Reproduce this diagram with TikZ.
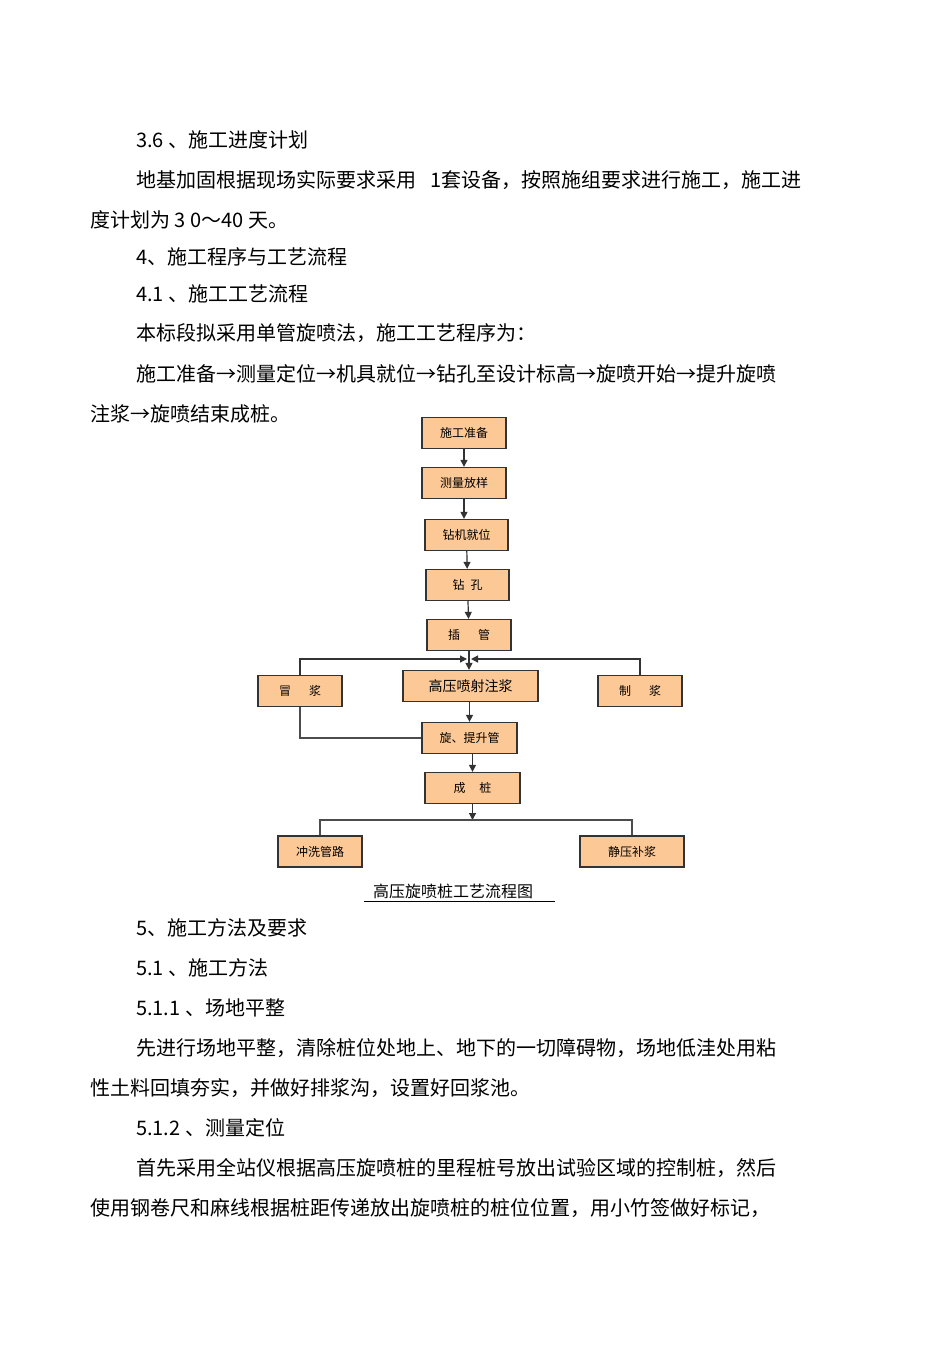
\documentclass[tikz,border=0pt]{standalone}
\usepackage{fontspec}
\setmainfont{Noto Sans CJK SC}
\usetikzlibrary{arrows.meta}
\begin{document}
\begin{tikzpicture}[x=1pt,y=-1pt,
 bx/.style={draw=black!80,line width=1.3pt,fill=orange!40!white!95!brown,font=\fontsize{12}{14}\selectfont,inner sep=0pt},
 ln/.style={anchor=base west,font=\fontsize{20}{24}\selectfont,inner sep=0pt},
 ar/.style={-{Triangle[length=7pt,width=7pt]},line width=1.2pt,black!80},
 pl/.style={line width=1.2pt,black!70}]
\useasboundingbox (0,0) rectangle (950,1345);
\node[ln] (t1) at (136,147) {3.6 、施工进度计划};
\node[ln] (t2) at (136,187) {地基加固根据现场实际要求采用\hspace{14pt}1套设备，按照施组要求进行施工，施工进};
\node[ln] (t3) at (90,227) {度计划为 3 0～40 天。};
\node[ln] (t4) at (136,264) {4、施工程序与工艺流程};
\node[ln] (t5) at (136,301) {4.1 、施工工艺流程};
\node[ln] (t6) at (136,340) {本标段拟采用单管旋喷法，施工工艺程序为：};
\node[ln] (t7) at (136,381) {施工准备→测量定位→机具就位→钻孔至设计标高→旋喷开始→提升旋喷};
\node[ln] (t8) at (90,421) {注浆→旋喷结束成桩。};
\node[ln] (t9) at (136,935) {5、施工方法及要求};
\node[ln] (t10) at (136,975) {5.1 、施工方法};
\node[ln] (t11) at (136,1015) {5.1.1 、场地平整};
\node[ln] (t12) at (136,1055) {先进行场地平整，清除桩位处地上、地下的一切障碍物，场地低洼处用粘};
\node[ln] (t13) at (90,1095) {性土料回填夯实，并做好排浆沟，设置好回浆池。};
\node[ln] (t14) at (136,1135) {5.1.2 、测量定位};
\node[ln] (t15) at (136,1175) {首先采用全站仪根据高压旋喷桩的里程桩号放出试验区域的控制桩，然后};
\node[ln] (t16) at (90,1215) {使用钢卷尺和麻线根据桩距传递放出旋喷桩的桩位位置，用小竹签做好标记，};

\node[bx,minimum width=84pt,minimum height=31pt] (b1) at (464,433) {施工准备};
\node[bx,minimum width=84pt,minimum height=31pt] (b2) at (464,483) {测量放样};
\node[bx,minimum width=83pt,minimum height=31pt] (b3) at (466.5,535) {钻机就位};
\node[bx,minimum width=83pt,minimum height=31pt] (b4) at (467.5,585) {钻\hspace{6pt}孔};
\node[bx,minimum width=84pt,minimum height=31pt] (b5) at (469,635) {插\hspace{18pt}管};
\node[bx,minimum width=84pt,minimum height=31pt] (m1) at (300,691) {冒\hspace{18pt}浆};
\node[bx,minimum width=135pt,minimum height=31pt,font=\fontsize{14}{16}\selectfont] (m2) at (470.5,686) {高压喷射注浆};
\node[bx,minimum width=84pt,minimum height=31pt] (m3) at (640,691) {制\hspace{18pt}浆};
\node[bx,minimum width=95pt,minimum height=31pt] (b6) at (469.5,738) {旋、提升管};
\node[bx,minimum width=95pt,minimum height=31pt] (b7) at (472.5,788) {成\hspace{14pt}桩};
\node[bx,minimum width=84pt,minimum height=31pt] (e1) at (320,851.5) {冲洗管路};
\node[bx,minimum width=104pt,minimum height=31pt] (e2) at (632,851.5) {静压补浆};

\coordinate (j) at (469,659);
\coordinate (k) at (472.5,820);
\draw[ar] (b1) -- (b2);
\draw[ar] (b2.south) -- (b3.north-|b2.south);
\draw[ar] (b3) -- (b4);
\draw[ar] (b4) -- (b5);
\draw[ar] (b5.south) -- (m2.north-|b5.south);
\draw[ar] (m1.north) |- ([xshift=-2pt]j);
\draw[ar] (m3.north) |- ([xshift=2pt]j);
\draw[pl] (m1.south) |- (b6.west);
\draw[ar] (m2.south-|b6.north) -- (b6.north);
\draw[ar] (b6.south-|b7.north) -- (b7.north);
\draw[ar] (b7) -- (k);
\draw[pl] (e1.north) |- (k) -| (e2.north);
\node[font=\fontsize{16}{18}\selectfont,inner sep=0pt] (cap) at (453,891) {高压旋喷桩工艺流程图};
\draw[line width=0.8pt] (364,901) -- (555,901);
\end{tikzpicture}
\end{document}
